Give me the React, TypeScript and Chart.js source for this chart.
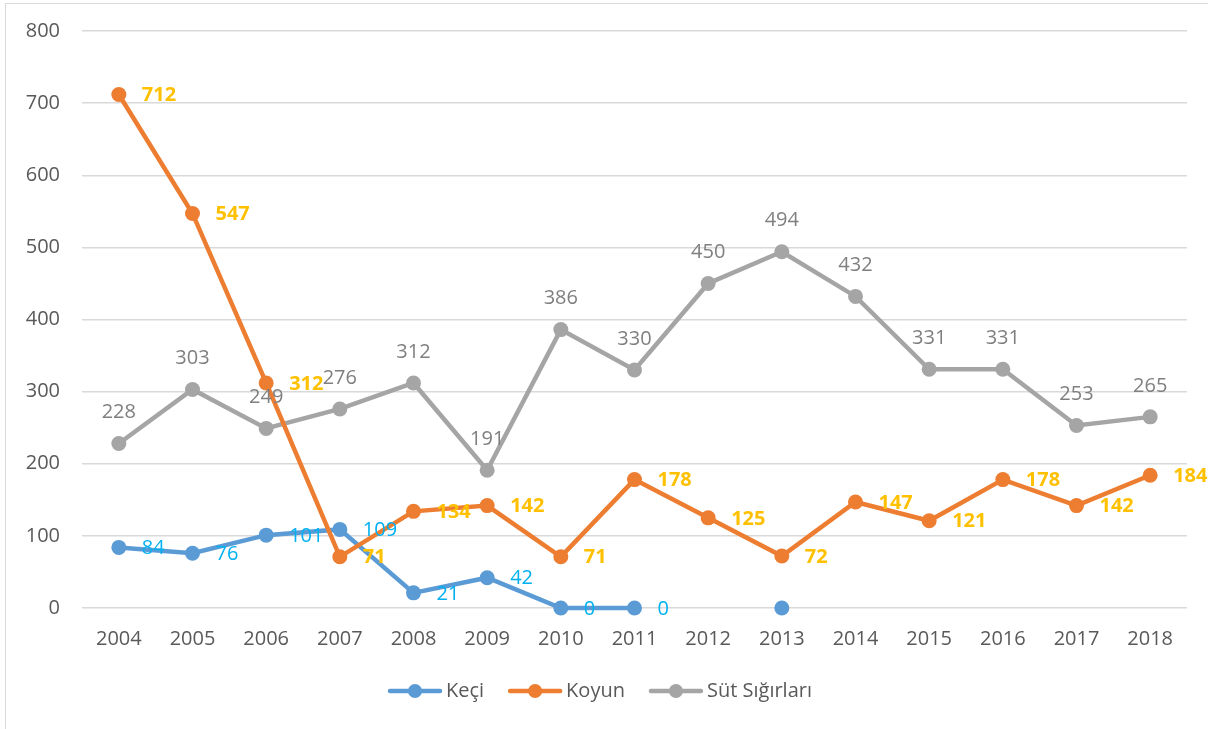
import React, { useEffect, useRef } from 'react';
import { Chart, registerables } from 'chart.js';

Chart.register(...registerables);

const years = ['2004', '2005', '2006', '2007', '2008', '2009', '2010', '2011', '2012', '2013', '2014', '2015', '2016', '2017', '2018'];
const keci: (number | null)[] = [84, 76, 101, 109, 21, 42, 0, 0, null, 0];
const koyun = [712, 547, 312, 71, 134, 142, 71, 178, 125, 72, 147, 121, 178, 142, 184];
const sut = [228, 303, 249, 276, 312, 191, 386, 330, 450, 494, 432, 331, 331, 253, 265];
const keciHiddenLabels = [9];
const seriesNames = ['Keçi', 'Koyun', 'Süt Sığırları'];

const FONT = "'Open Sans', sans-serif";
const FS = 20;
const BLUE = '#5B9BD5';
const ORANGE = '#ED7D31';
const GRAY = '#A5A5A5';

const labelPlugin = {
  id: 'valueLabels',
  afterDatasetsDraw(chart: any) {
    const ctx = chart.ctx;
    chart.data.datasets.forEach((ds: any, i: number) => {
      const meta = chart.getDatasetMeta(i);
      const cfg = ds.labelCfg;
      meta.data.forEach((pt: any, j: number) => {
        const v = ds.data[j];
        if (v == null || cfg.hidden.includes(j)) return;
        ctx.save();
        ctx.font = `${cfg.bold ? 'bold ' : ''}${FS}px ${FONT}`;
        ctx.fillStyle = cfg.color;
        ctx.textBaseline = 'middle';
        if (cfg.pos === 'right') {
          ctx.textAlign = 'left';
          ctx.fillText(String(v), pt.x + 23, pt.y + 1);
        } else {
          ctx.textAlign = 'center';
          ctx.fillText(String(v), pt.x, pt.y - 31);
        }
        ctx.restore();
      });
    });
  },
};

const legendPlugin = {
  id: 'customLegend',
  afterDraw(chart: any) {
    const ctx = chart.ctx;
    const items = [
      { name: seriesNames[0], color: BLUE },
      { name: seriesNames[1], color: ORANGE },
      { name: seriesNames[2], color: GRAY },
    ];
    ctx.save();
    ctx.font = `${FS}px ${FONT}`;
    const lineW = 54;
    const gapText = 4;
    const gapItem = 24;
    const widths = items.map((it) => lineW + gapText + ctx.measureText(it.name).width);
    const total = widths.reduce((a, b) => a + b, 0) + gapItem * (items.length - 1);
    let x = chart.width / 2 - 4 - total / 2;
    const y = 691;
    items.forEach((it, k) => {
      ctx.strokeStyle = it.color;
      ctx.lineWidth = 4.5;
      ctx.lineCap = 'round';
      ctx.beginPath();
      ctx.moveTo(x + 2, y);
      ctx.lineTo(x + lineW - 2, y);
      ctx.stroke();
      ctx.fillStyle = it.color;
      ctx.beginPath();
      ctx.arc(x + lineW / 2, y, 7, 0, Math.PI * 2);
      ctx.fill();
      ctx.fillStyle = '#595959';
      ctx.textAlign = 'left';
      ctx.textBaseline = 'middle';
      ctx.fillText(it.name, x + lineW + gapText, y);
      x += widths[k] + gapItem;
    });
    ctx.restore();
  },
};

export default function App() {
  const ref = useRef<HTMLCanvasElement>(null);
  useEffect(() => {
    if (!ref.current) return;
    const common = {
      borderWidth: 4.5,
      pointRadius: 7.5,
      pointHoverRadius: 7.5,
      pointBorderWidth: 0,
      clip: false,
    };
    const chart = new Chart(ref.current, {
      type: 'line',
      data: {
        labels: years,
        datasets: [
          {
            ...common,
            label: seriesNames[0],
            data: keci,
            borderColor: BLUE,
            backgroundColor: BLUE,
            spanGaps: false,
            order: 2,
            labelCfg: { pos: 'right', color: '#00B0F0', bold: false, hidden: keciHiddenLabels },
          } as any,
          {
            ...common,
            label: seriesNames[1],
            data: koyun,
            borderColor: ORANGE,
            backgroundColor: ORANGE,
            order: 1,
            labelCfg: { pos: 'right', color: '#FFC000', bold: true, hidden: [] },
          } as any,
          {
            ...common,
            label: seriesNames[2],
            data: sut,
            borderColor: GRAY,
            backgroundColor: GRAY,
            order: 3,
            labelCfg: { pos: 'top', color: '#7F7F7F', bold: false, hidden: [] },
          } as any,
        ],
      },
      options: {
        responsive: false,
        animation: false,
        layout: { padding: { left: 0, right: 21, top: 31, bottom: 0 } },
        plugins: {
          legend: { display: false },
          tooltip: { enabled: false },
        },
        scales: {
          x: {
            offset: true,
            grid: { display: false, drawTicks: false },
            border: { display: false },
            ticks: { color: '#595959', font: { family: FONT, size: FS }, padding: 19, maxRotation: 0 },
            afterFit: (s: any) => { s.height = 121; s.paddingLeft = 0; s.paddingRight = 0; },
          },
          y: {
            min: 0,
            max: 800,
            ticks: { stepSize: 100, color: '#595959', font: { family: FONT, size: FS }, padding: 22 },
            grid: { color: '#D9D9D9', lineWidth: 1.5, drawTicks: false },
            border: { display: false },
            afterFit: (s: any) => { s.width = 82; s.paddingTop = 0; s.paddingBottom = 0; },
          },
        },
      },
      plugins: [labelPlugin, legendPlugin],
    });
    return () => chart.destroy();
  }, []);
  return (
    <div style={{ position: 'fixed', left: 0, top: 0, width: 1208, height: 729, background: '#fff' }}>
      <div style={{ position: 'absolute', left: 5, top: 3, width: 1203, height: 726, borderLeft: '1.5px solid #D9D9D9', borderTop: '1.5px solid #D9D9D9' }} />
      <canvas ref={ref} width={1208} height={729} style={{ position: 'absolute', left: 0, top: 0 }} />
    </div>
  );
}
